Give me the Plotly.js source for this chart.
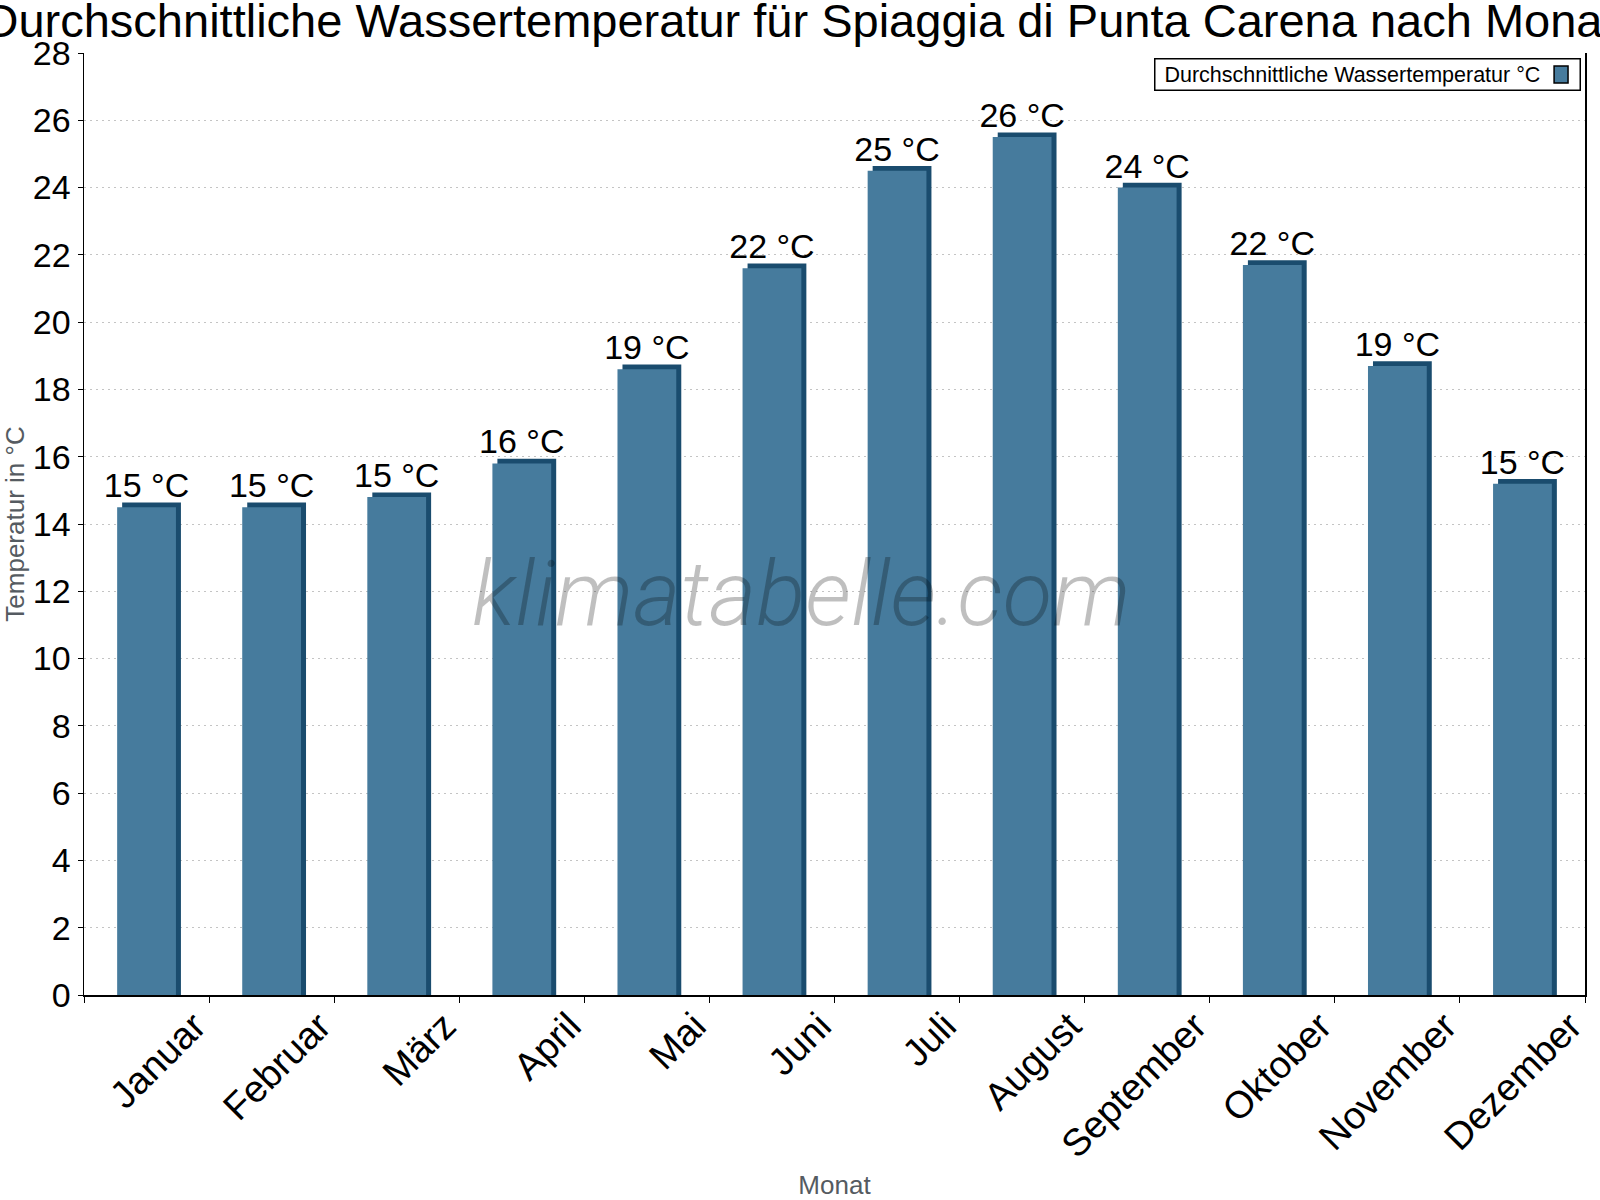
<!DOCTYPE html>
<html>
<head>
<meta charset="utf-8">
<script src="https://cdn.plot.ly/plotly-3.0.1.min.js"></script>
<style>
  html, body { margin: 0; padding: 0; background: #fff; }
  #chart { width: 1600px; height: 1200px; }
</style>
</head>
<body>
<div id="chart"></div>
<script>
const MONTHS = [
  'Januar', 'Februar', 'März', 'April', 'Mai', 'Juni',
  'Juli', 'August', 'September', 'Oktober', 'November', 'Dezember',
];
const WATER_TEMP = [14.5, 14.5, 14.8, 15.8, 18.6, 21.6, 24.5, 25.5, 24.0, 21.7, 18.7, 15.2];
const SERIES_NAME = 'Durchschnittliche Wassertemperatur °C';
const TITLE = 'Durchschnittliche Wassertemperatur für Spiaggia di Punta Carena nach Monat';

const FRONT = '#467b9d';
const SHADE = '#1a4c6e';
const FONT = 'Liberation Sans, Arial, sans-serif';

// fake 3D: darker bar slightly taller and shifted right, drawn behind the front bar
const BAR_W = 0.47;
const DEPTH_X = 0.04;
const DEPTH_Y = 0.14;

const labels = WATER_TEMP.map(v => `${Math.round(v)} °C`);

const shade = {
  type: 'bar',
  x: MONTHS,
  y: WATER_TEMP.map(v => v + DEPTH_Y),
  width: BAR_W,
  offset: -BAR_W / 2 + DEPTH_X,
  marker: { color: SHADE, line: { width: 0 } },
  hoverinfo: 'skip',
  showlegend: false,
};

const front = {
  type: 'bar',
  name: SERIES_NAME,
  x: MONTHS,
  y: WATER_TEMP,
  width: BAR_W,
  offset: -BAR_W / 2,
  marker: { color: FRONT, line: { width: 0 } },
  text: labels,
  textposition: 'outside',
  textfont: { family: FONT, size: 34, color: '#000' },
  constraintext: 'none',
  cliponaxis: false,
  showlegend: false,
};

const layout = {
  width: 1600,
  height: 1200,
  margin: { l: 84, r: 15, t: 53, b: 205 },
  paper_bgcolor: '#fff',
  plot_bgcolor: '#fff',
  barmode: 'overlay',
  font: { family: FONT, color: '#000' },
  title: {
    text: TITLE,
    font: { family: FONT, size: 47, color: '#000' },
    x: 0.5,
    xanchor: 'center',
    y: 0.997,
    yanchor: 'top',
  },
  xaxis: {
    type: 'category',
    showline: true,
    linecolor: '#000',
    linewidth: 1.5,
    ticks: 'outside',
    tickson: 'boundaries',
    ticklen: 6,
    tickcolor: '#000',
    tickangle: -45,
    ticklabelshift: 48,
    ticklabelstandoff: -8,
    tickfont: { family: FONT, size: 38, color: '#000' },
    showgrid: false,
    zeroline: false,
    title: { text: 'Monat', font: { family: FONT, size: 26, color: '#555b61' }, standoff: 18 },
  },
  yaxis: {
    range: [0, 28],
    dtick: 2,
    showline: true,
    mirror: true,
    linecolor: '#000',
    linewidth: 1.5,
    ticks: 'outside',
    ticklen: 5,
    tickcolor: '#000',
    tickfont: { family: FONT, size: 34, color: '#000' },
    showgrid: true,
    gridcolor: '#c4c4c4',
    gridwidth: 1,
    griddash: '2px,4px',
    zeroline: false,
    title: { text: 'Temperatur in °C', font: { family: FONT, size: 26, color: '#555b61' }, standoff: 4 },
  },
  annotations: [
    {
      // watermark
      xref: 'paper', yref: 'paper',
      x: 0.478, y: 0.426,
      xanchor: 'center', yanchor: 'middle',
      text: 'klimatabelle.com',
      showarrow: false,
      font: { family: 'Roboto', size: 91, weight: 300, style: 'italic', color: 'rgba(0,0,0,0.25)' },
    },
    {
      // legend box, symbol sits on the right
      xref: 'paper', yref: 'paper',
      x: 0.9973, y: 0.9947,
      xanchor: 'right', yanchor: 'top',
      text: '&nbsp;' + SERIES_NAME,
      align: 'left',
      width: 418,
      showarrow: false,
      bordercolor: '#000',
      borderwidth: 1.5,
      borderpad: 3,
      bgcolor: 'rgba(255,255,255,0)',
      font: { family: FONT, size: 21.5, color: '#000' },
    },
  ],
  shapes: [
    {
      type: 'rect', xref: 'paper', yref: 'paper',
      x0: 0.9794, x1: 0.9887, y0: 0.9682, y1: 0.9862,
      fillcolor: FRONT,
      line: { color: '#000', width: 1.5 },
      layer: 'above',
    },
  ],
};

Plotly.newPlot('chart', [shade, front], layout, { displayModeBar: false, staticPlot: true });
</script>
</body>
</html>
